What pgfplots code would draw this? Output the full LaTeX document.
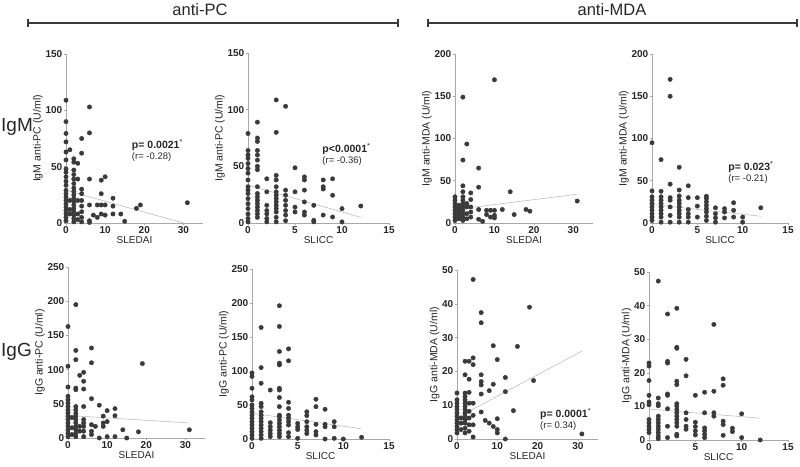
\documentclass[border=0pt]{standalone}
\usepackage{fontspec}
\setmainfont{Liberation Sans}
\usepackage{pgfplots}
\pgfplotsset{compat=1.18}
\definecolor{dotc}{HTML}{3A3A3A}
\definecolor{axc}{HTML}{A8A8A8}
\definecolor{regc}{HTML}{BDBDBD}
\definecolor{txc}{HTML}{262626}
\newcommand{\fs}[1]{\fontsize{#1}{#1}\selectfont}
\pgfplotsset{
  sc/.style={
    scale only axis, anchor=south west, axis lines=left, enlargelimits=false,
    xmin=0, ymin=0, clip=false,
    axis line style={draw=axc, line width=0.9pt, -},
    tick style={draw=axc, line width=0.6pt},
    tick align=outside, major tick length=2pt,
    /pgf/number format/assume math mode=true,
    tick label style={font=\fs{10}\bfseries, text=txc, inner sep=1.5pt},
    xlabel style={font=\fs{10}, text=txc, inner sep=1pt},
    ylabel style={font=\fs{10.5}, text=txc, inner sep=1pt},
  },
  pts/.style={only marks, mark=*, mark size=2.2pt, color=dotc},
  reg/.style={regc, line width=0.6pt, no marks},
}
\newcommand{\pv}[2]{{\fs{10.5}\bfseries p#1\textsuperscript{\mdseries *}}\\[-1pt]{\fs{9.5}(r= #2)}}
\begin{document}
\begin{tikzpicture}
\useasboundingbox (0pt,0pt) rectangle (800pt,-466pt);
% headers
\draw[dotc, line width=1.6pt] (28pt,-23pt) -- (398pt,-23pt);
\draw[dotc, line width=1.2pt] (28pt,-19pt) -- (28pt,-27pt) (398pt,-19pt) -- (398pt,-27pt);
\draw[dotc, line width=1.6pt] (428pt,-23pt) -- (797pt,-23pt);
\draw[dotc, line width=1.2pt] (428pt,-19pt) -- (428pt,-27pt) (797pt,-19pt) -- (797pt,-27pt);
\node[text=txc, font=\fs{16.5}] at (200pt,-10pt) {anti-PC};
\node[text=txc, font=\fs{16.5}] at (612pt,-10pt) {anti-MDA};
\node[text=txc, font=\fs{19}, anchor=west, inner sep=0pt] at (1pt,-127pt) {IgM};
\node[text=txc, font=\fs{19}, anchor=west, inner sep=0pt] at (1pt,-352pt) {IgG};

% P1
\begin{axis}[sc, at={(66pt,-223pt)}, width=137pt, height=169pt, xmax=35, ymax=150,
  xtick={0,10,20,30}, ytick={0,50,100,150}, xlabel={SLEDAI}, ylabel={IgM anti-PC (U/ml)}]
\addplot[reg] coordinates {(0,29) (30,0)};
\addplot[pts] coordinates {
(0,109)(0,90)(0,79.5)(0,72)(0,63)(0,56)(0,48)(0,45)(0,41)(0,37)(0,33.5)(0,29)(0,26)(0,23)(0,20)(0,17)(0,14)(0,11)(0,8)(0,5)(0,2)
(1,65)(1,20)(1,12)(1,8)
(2,57)(2,54)(2,47)(2,43)(2,39)(2,35)(2,31)(2,28)(2,25)(2,22)(2,19)(2,16)(2,13)(2,10)(2,7)(2,4)(2,1)
(3,53)(3,39)(3,20)(3,8)(3,3)
(4,75)(4,62)(4,30)(4,26)(4,20)(4,15)(4,10)(4,5)(4,1)
(6,103)(6,80)(6,39)(6,16)(6,2)(6,0.5)
(7,7)(8,16)(8,5)(9,38)(9,26)(9,16)(9,8)(10,41)(10,16)(10,7)
(12,22)(12,15)(12,8)(14,8)(15,1.5)(18,13)(19,16)(31,18)};
\node[anchor=west, align=left, text=txc, inner sep=0pt] at (axis cs:16.8,64.3) {\pv{= 0.0021}{-0.28}};
\end{axis}

% P2
\begin{axis}[sc, at={(248pt,-223pt)}, width=141pt, height=170pt, xmax=15, ymax=150,
  xtick={0,5,10,15}, ytick={0,50,100,150}, xlabel={SLICC}, ylabel={IgM anti-PC (U/ml)}]
\addplot[reg] coordinates {(0,33.5) (12,5)};
\addplot[pts] coordinates {
(0,79)(0,64)(0,60)(0,57)(0,52.5)(0,48)(0,44)(0,38)(0,32)(0,29)(0,26)(0,21.5)(0,17)(0,12.7)(0,8)(0,4)(0,1)
(1,89)(1,75)(1,72)(1,64)(1,60)(1,55.5)(1,50)(1,47)(1,32)(1,26)(1,23)(1,20)(1,17)(1,14)(1,11)(1,8)(1,5)
(2,39)(2,27.5)(2,15.6)(2,11)(2,8)(2,4)(2,1)
(3,108.6)(3,80)(3,42)(3,38)(3,32)(3,27.5)(3,24.5)(3,21.5)(3,18.6)(3,15.6)(3,12.7)(3,9.7)(3,5)(3,1)
(4,103)(4,29)(4,24.5)(4,20)(4,15.6)(4,11)(4,7)(4,2)
(5,48.7)(5,27.5)(5,14)(5,9.7)
(6,40.7)(6,38)(6,29)(6,18.6)(6,9.7)(6,7)
(7,15.6)(7,2.4)(7,1)
(8,38)(8,32)(8,30)(8,7)
(9,39)(9,24.5)(9,5.3)
(10,12.7)(10,1)(12,15)};
\node[anchor=west, align=left, text=txc, inner sep=0pt] at (axis cs:7.9,60.9) {\pv{<0.0001}{-0.36}};
\end{axis}

% P3
\begin{axis}[sc, at={(455pt,-223pt)}, width=138pt, height=169pt, xmax=35, ymax=200,
  xtick={0,10,20,30}, ytick={0,50,100,150,200}, xlabel={SLEDAI}, ylabel={IgM anti-MDA (U/ml)}]
\addplot[reg] coordinates {(0,16) (31,34)};
\addplot[pts] coordinates {
(0,31)(0,27)(0,23)(0,19)(0,15)(0,11)(0,7)(0,3)
(1,21)(1,17)(1,13)(1,9)(1,5)
(2,149)(2,74.5)(2,44)(2,37)(2,31)(2,27)(2,23)(2,19)(2,15)(2,11)(2,7)(2,3)
(3,93.5)(3,23)(3,19)(3,11)(3,5)
(4,35.6)(4,27.7)(4,19)(4,13)(4,7)
(6,65)(6,42.4)(6,16)(6,4.4)
(7,2)(8,15)(8,10)(9,15)(9,7)(10,169.5)(10,15)(10,9)(10,6)
(12,16)(14,37)(15,10)(18,16)(19,14)(31,26)};
\end{axis}

% P4
\begin{axis}[sc, at={(652pt,-223pt)}, width=136pt, height=169pt, xmax=15, ymax=200,
  xtick={0,5,10,15}, ytick={0,50,100,150,200}, xlabel={SLICC}, ylabel={IgM anti-MDA (U/ml)}]
\addplot[reg] coordinates {(0,22) (12,8)};
\addplot[pts] coordinates {
(0,95)(0,38)(0,31)(0,27)(0,23)(0,19)(0,15)(0,11)(0,7)(0,3)
(1,75)(1,37.5)(1,31)(1,27)(1,23)(1,19)(1,15)(1,11)(1,7)(1,1)
(2,170)(2,150)(2,46)(2,30)(2,27)(2,19)(2,9)(2,1)
(3,66)(3,39)(3,32)(3,27)(3,23)(3,19)(3,15)(3,11)(3,7)(3,1)
(4,44)(4,30)(4,16)(4,11)(4,7)(4,1)
(5,30)(5,20)(5,7)
(6,31.6)(6,29)(6,25)(6,21)(6,17)(6,13)(6,8)(6,3)
(7,18)(7,11)(7,6)(7,1)
(8,17)(8,13)(8,6)
(9,24)(9,15)(9,7)
(10,7)(10,1)(12,18)};
\node[anchor=west, align=left, text=txc, inner sep=0pt] at (axis cs:8.4,59.8) {\pv{= 0.023}{-0.21}};
\end{axis}

% P5
\begin{axis}[sc, at={(68pt,-438pt)}, width=137pt, height=171pt, xmax=35, ymax=250,
  xtick={0,10,20,30}, ytick={0,50,100,150,200,250}, xlabel={SLEDAI}, ylabel={IgG anti-PC (U/ml)}]
\addplot[reg] coordinates {(0,33) (31,22)};
\addplot[pts] coordinates {
(0,163)(0,105)(0,74.6)(0,61)(0,56)(0,51)(0,46)(0,41)(0,36.5)(0,32)(0,27)(0,22)(0,17)(0,12)(0,7)(0,2)
(1,30)(1,15)(1,5)
(2,195)(2,128)(2,114.5)(2,73)(2,70.6)(2,46)(2,41)(2,36)(2,32)(2,27)(2,22)(2,17)(2,12)(2,7)(2,2)
(3,91.6)(3,17)(3,10)
(4,96)(4,83)(4,71.6)(4,46)(4,27)(4,22)(4,17)(4,10)(4,2)
(6,131.6)(6,110)(6,57.5)(6,19.5)(6,10)(6,5)
(7,17)(8,48)(8,0)(9,32)(9,22)(9,17)(10,40)(10,24)(10,2)
(12,43)(12,32.6)(12,2)(14,12)(15,0)(18,9)(19,108.8)(31,12)};
\end{axis}

% P6
\begin{axis}[sc, at={(252pt,-439pt)}, width=137pt, height=170pt, xmax=15, ymax=250,
  xtick={0,5,10,15}, ytick={0,50,100,150,200,250}, xlabel={SLICC}, ylabel={IgG anti-PC (U/ml)}]
\addplot[reg] coordinates {(0,38) (12,15)};
\addplot[pts] coordinates {
(0,97)(0,92)(0,74.6)(0,62)(0,57.5)(0,50)(0,45)(0,40)(0,35)(0,30.5)(0,25.5)(0,20.6)(0,15.7)(0,10.8)(0,5.9)(0,1)
(1,164)(1,105)(1,82)(1,52.5)(1,47.6)(1,40)(1,35)(1,30.5)(1,25.5)(1,20.6)(1,15.7)(1,10.8)(1,5.9)(1,1)
(2,72)(2,24)(2,18)(2,13)(2,8)(2,3.4)
(3,196)(3,165.5)(3,128.7)(3,111.5)(3,109)(3,74.6)(3,72)(3,61)(3,47.6)(3,35)(3,33)(3,28)(3,23)(3,18)(3,13)(3,8)(3,3.4)
(4,132.6)(4,115)(4,54)(4,45)(4,35)(4,30.5)(4,25.5)(4,20.6)(4,9.3)(4,3.4)
(5,23)(5,18)(5,14)(5,1)
(6,40)(6,34.4)(6,25.5)(6,18)(6,13)(6,8)
(7,58.5)(7,47.6)(7,21.6)(7,10.8)(7,5.9)
(8,43.7)(8,21.6)(8,18)(8,0)
(9,25.5)(9,18)(9,1)(10,0)(12,2.5)};
\end{axis}

% P7
\begin{axis}[sc, at={(457pt,-439pt)}, width=141pt, height=169pt, xmax=35, ymax=50,
  xtick={0,10,20,30}, ytick={0,10,20,30,40,50}, xlabel={SLEDAI}, ylabel={IgG anti-MDA (U/ml)}]
\addplot[reg] coordinates {(0,6.3) (31,26)};
\addplot[pts] coordinates {
(0,13.6)(0,11.6)(0,10.6)(0,9.6)(0,8.7)(0,7.7)(0,6.7)(0,5.7)(0,4.7)(0,3.7)(0,2.8)(0,1.8)
(1,6.2)(1,4.7)(1,2.8)
(2,23)(2,19)(2,13.6)(2,12.6)(2,11.6)(2,10.6)(2,9.6)(2,8.7)(2,7.7)(2,6.7)(2,5.7)(2,4.7)(2,3.2)(2,1.8)
(3,23)(3,17.7)(3,13.8)(3,10.6)(3,8.2)(3,6.2)(3,4.2)(3,2.3)
(4,47.2)(4,24)(4,22)(4,10.6)(4,7)(4,4.2)(4,0.6)
(6,37.4)(6,34.4)(6,19)(6,17)(6,16)(6,13.3)(6,8)
(7,5.5)(8,14.3)(8,4.7)(9,27.6)(9,16.2)(9,3.7)
(10,23.5)(10,6)(10,2.8)(10,1.8)
(12,18.2)(12,14)(12,0)(14,8.4)(15,27.4)(18,39)(19,17.3)(31,1.5)};
\node[anchor=west, align=left, text=txc, inner sep=0pt] at (axis cs:20.6,5.9) {\pv{= 0.0001}{0.34}};
\end{axis}

% P8
\begin{axis}[sc, at={(649pt,-440pt)}, width=139pt, height=168pt, xmax=15, ymax=50,
  xtick={0,5,10,15}, ytick={0,10,20,30,40,50}, xlabel={SLICC}, ylabel={IgG anti-MDA (U/ml)}]
\addplot[reg] coordinates {(0,9.2) (12,6.5)};
\addplot[pts] coordinates {
(0,22.9)(0,22)(0,17.7)(0,13.3)(0,11.3)(0,10.5)(0,6.1)(0,5.1)(0,4.1)(0,3.2)(0,2.2)
(1,47.3)(1,12.5)(1,10.8)(1,10.2)(1,7.1)(1,6.1)(1,5.1)(1,4.1)(1,3.2)(1,2.2)(1,1.2)(1,0.4)
(2,37.5)(2,23.4)(2,22.9)(2,13.7)(2,13.3)(2,9.3)(2,4.1)(2,0.7)
(3,39.2)(3,27.6)(3,27.3)(3,17.5)(3,16.5)(3,10.8)(3,10.1)(3,9.1)(3,8.1)(3,7.1)(3,6.1)(3,5.1)(3,4.1)(3,1.7)(3,1.2)
(4,24)(4,19.1)(4,8.1)(4,6.1)(4,4.1)(4,3.2)
(5,13.3)(5,5.3)(5,4)(5,2.7)(5,1.5)
(6,14.2)(6,8.1)(6,3.6)(6,2.7)(6,1.7)(6,0.7)
(7,34.4)(7,14.5)(7,8.1)(7,7.1)
(8,18.2)(8,16.3)(8,5.6)(8,4.6)(8,1.4)
(9,3.5)(9,2.5)(10,7.8)(10,0.7)(12,0)};
\end{axis}
\end{tikzpicture}
\end{document}
